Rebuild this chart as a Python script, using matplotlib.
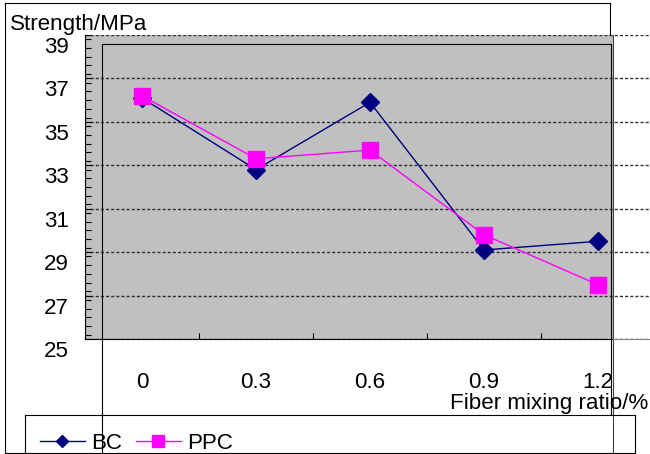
import matplotlib.pyplot as plt
from matplotlib.lines import Line2D
from matplotlib.ticker import MultipleLocator
from matplotlib.transforms import ScaledTranslation

plt.rcParams['font.family'] = ['Liberation Sans', 'DejaVu Sans']

# data
ratios = ['0', '0.3', '0.6', '0.9', '1.2']
bc = [36.1, 32.8, 35.9, 29.1, 29.5]
ppc = [36.2, 33.3, 33.7, 29.8, 27.5]

W, H = 650, 454
FS = 16.1


def fx(x):
    return x / W


def fy(y):
    return 1 - y / H


def seg(x0, y0, x1, y1, color='black', lw=0.8):
    fig.add_artist(Line2D([fx(x0), fx(x1)], [fy(y0), fy(y1)], color=color,
                          lw=lw, transform=fig.transFigure))


fig = plt.figure(figsize=(6.5, 4.54), dpi=100)
ax = fig.add_axes([fx(85), fy(339), fx(650) - fx(85), fy(35) - fy(339)])
ax.set_facecolor('none')
ax.axvspan(-0.5, 4.13, color='#c0c0c0', lw=0, zorder=0)

xs = list(range(len(ratios)))
ax.plot(xs, bc, color='#000080', lw=1, marker='D', ms=9, label='BC', clip_on=False, zorder=3)
ax.plot(xs, ppc, color='#ff00ff', lw=1, marker='s', ms=11.5, label='PPC', clip_on=False, zorder=4)

ax.set_xlim(-0.5, -0.5 + 565 / 114)
ax.set_ylim(25, 39)
ax.set_yticks(range(25, 40, 2))
ax.yaxis.set_minor_locator(MultipleLocator(0.4))
ax.set_xticks(xs, ratios)
ax.set_xticks([i + 0.5 for i in range(4)], minor=True)
ax.tick_params(axis='x', which='major', length=0, pad=24, labelsize=FS)
ax.tick_params(axis='x', which='minor', direction='in', length=4.5, width=0.8)
ax.tick_params(axis='y', which='both', direction='in', length=4, width=0.8, pad=11.5, labelsize=FS)
ax.grid(axis='y', which='major', color='#303030', linestyle=(0, (2.2, 1.5)), lw=1)
ax.set_axisbelow(True)

for s in ['top', 'right']:
    ax.spines[s].set_visible(False)
ax.spines['bottom'].set_bounds(-0.5, 4.13)

off = ScaledTranslation(0, -0.10, fig.dpi_scale_trans)
for lab in ax.get_yticklabels():
    lab.set_transform(lab.get_transform() + off)

fig.text(fx(10), fy(30), 'Strength/MPa', fontsize=FS, va='baseline')
fig.text(fx(450), fy(409), 'Fiber mixing ratio/%', fontsize=FS, va='baseline')

# leftover frames from the original spreadsheet chart
seg(5, 3, 5, 453)
seg(5, 3, 610, 3)
seg(610, 3, 610, 35)
seg(5, 453, 635, 453)
seg(102, 44, 611, 44)
seg(102, 44, 102, 454)
seg(611, 44, 611, 415)
seg(613, 35, 613, 454, color='#404040')
seg(613, 339, 650, 339, color='#808080')
seg(25, 415, 635, 415)
seg(25, 415, 25, 454)
seg(635, 415, 635, 453)

fig.legend(loc='upper left', bbox_to_anchor=(fx(40), fy(433)), ncol=2, frameon=False,
           fontsize=FS, handlelength=2.0, handletextpad=0.3, columnspacing=0.6,
           borderpad=0, borderaxespad=0, markerscale=0.7)

fig.savefig('out.png', dpi=100)
